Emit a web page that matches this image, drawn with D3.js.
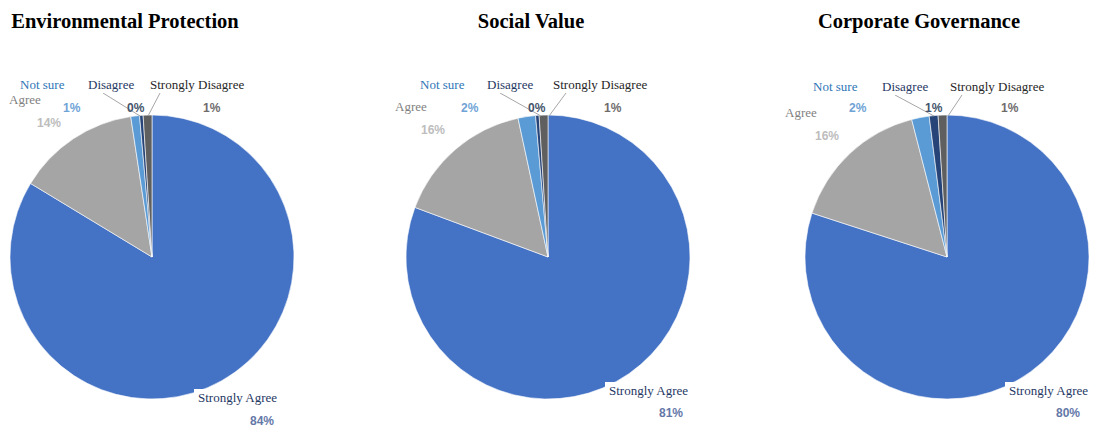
<!DOCTYPE html>
<html><head><meta charset="utf-8">
<script src="https://cdn.jsdelivr.net/npm/d3@7"></script>
<style>body{margin:0;background:#fff;}svg{display:block;}</style>
</head><body>
<svg id="c" width="1094" height="427"></svg>
<script>
// ---- data ----
const categories = ["Strongly Agree", "Agree", "Not sure", "Disagree", "Strongly Disagree"];
const titles = ["Environmental Protection", "Social Value", "Corporate Governance"];
const envValues = [84, 14, 1, 0.4, 1];
const socValues = [81, 16, 2, 0.4, 1];
const govValues = [80, 16, 2, 1, 1];
const seriesValues = [envValues, socValues, govValues];

// ---- styles ----
const sliceColors = ["#4472C4", "#A5A5A5", "#5B9BD5", "#264478", "#5F5F5F"];
const nameColors = ["#1F3864", "#7F7F7F", "#2E75B6", "#1F3864", "#262626"];
const pctColors = ["#6478A8", "#BDBDBD", "#6FA3D6", "#44546A", "#6F6B6B"];

const svg = d3.select("#c");
const layouts = [
  {cx:152, cy:257, r:142, tx:125,
   lab:[[198,402,250,425],[9,104,37,127],[20,89,63,112],[88,89,127,112],[150,89,203,112]],
   lines:[[[103,93],[140,116]],[[160,93],[148,116]]]},
  {cx:548, cy:257, r:142, tx:531,
   lab:[[609,395,659,417],[395,111,421,134],[420,89,461,112],[487,89,528,112],[553,89,604,112]],
   lines:[[[500,93],[541,116]],[[566,93],[549,116]]]},
  {cx:947, cy:257, r:142, tx:919,
   lab:[[1009,395,1056,417],[785,117,815,140],[813,91,849,112],[882,91,925,112],[950,91,1001,112]],
   lines:[[[895,95],[934,116]],[[962,95],[948,116]]]}
];

const pie = d3.pie().sort(null).value(d => d);
const arc = d3.arc().innerRadius(0);

seriesValues.forEach((vals, i) => {
  const L = layouts[i];
  const total = d3.sum(vals);
  const fmt = d3.format(".0%");
  // title
  svg.append("text").attr("x", L.tx).attr("y", 28)
    .attr("text-anchor", "middle")
    .attr("font-family", "'Liberation Serif', 'Times New Roman', serif")
    .attr("font-weight", "bold").attr("font-size", 20.5)
    .attr("fill", "#000").text(titles[i]);

  const g = svg.append("g").attr("transform", `translate(${L.cx},${L.cy})`);
  const arcs = pie(vals);
  g.selectAll("path").data(arcs).enter().append("path")
    .attr("d", d => arc.outerRadius(L.r)(d))
    .attr("fill", (d, k) => sliceColors[k])
    .attr("stroke", "#fff").attr("stroke-width", 0.6);

  // leader lines
  L.lines.forEach(ln => {
    svg.append("line").attr("x1", ln[0][0]).attr("y1", ln[0][1])
      .attr("x2", ln[1][0]).attr("y2", ln[1][1])
      .attr("stroke", "#A6A6A6").attr("stroke-width", 1);
  });

  // labels
  categories.forEach((cat, k) => {
    const p = L.lab[k];
    const t = svg.append("text").attr("x", p[0]).attr("y", p[1])
      .attr("font-family", "'Liberation Serif', 'Times New Roman', serif")
      .attr("font-size", 13).attr("fill", nameColors[k]).text(cat);
    const bb = t.node().getBBox();
    svg.insert("rect", () => t.node())
      .attr("x", bb.x - 4).attr("y", bb.y - 1)
      .attr("width", bb.width + 8).attr("height", bb.height + 2)
      .attr("fill", "#fff");
    svg.append("text").attr("x", p[2]).attr("y", p[3])
      .attr("font-family", "'Liberation Sans', Arial, sans-serif")
      .attr("font-weight", "bold").attr("font-size", 12)
      .attr("fill", pctColors[k]).text(fmt(vals[k] / total));
  });
});
</script>
</body></html>
